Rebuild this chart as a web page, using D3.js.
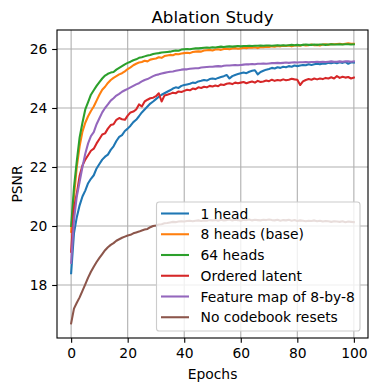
<!DOCTYPE html>
<html><head><meta charset="utf-8">
<script src="https://cdn.jsdelivr.net/npm/d3@7"></script>
<style>body{margin:0;background:#fff}svg{display:block}text{font-family:"DejaVu Sans",sans-serif;fill:#000}</style>
</head><body><svg id="c" width="377" height="391"></svg>
<script>
const epochs = d3.range(0, 101);
const seriesNames = ["1 head","8 heads (base)","64 heads","Ordered latent","Feature map of 8-by-8","No codebook resets"];
const seriesColors = ["#1f77b4","#ff7f0e","#2ca02c","#d62728","#9467bd","#8c564b"];
const xTicks = [0,20,40,60,80,100];
const yTicks = [18,20,22,24,26];

const oneHead = [18.40,19.75,20.30,20.70,21.00,21.20,21.45,21.60,21.72,21.95,22.10,22.25,22.35,22.42,22.58,22.70,22.88,23.02,23.08,23.22,23.30,23.40,23.52,23.60,23.72,23.85,23.95,24.05,24.15,24.22,24.30,24.38,24.45,24.50,24.55,24.60,24.66,24.70,24.68,24.75,24.78,24.80,24.82,24.86,24.85,24.90,24.92,24.95,24.93,24.98,25.00,24.98,25.02,25.05,25.08,25.12,25.00,25.08,25.12,25.15,25.18,25.20,25.18,25.23,25.26,25.28,25.14,25.22,25.26,25.30,25.32,25.36,25.34,25.38,25.36,25.40,25.38,25.42,25.40,25.44,25.42,25.44,25.46,25.45,25.48,25.46,25.48,25.50,25.48,25.51,25.50,25.53,25.52,25.54,25.52,25.55,25.53,25.56,25.50,25.55,25.54];
const eightHeads = [19.80,21.00,22.00,22.70,23.20,23.50,23.72,23.90,24.05,24.25,24.45,24.62,24.72,24.85,24.95,25.02,25.08,25.14,25.18,25.24,25.32,25.38,25.45,25.50,25.54,25.56,25.60,25.58,25.64,25.66,25.68,25.72,25.70,25.76,25.78,25.80,25.79,25.83,25.82,25.85,25.86,25.87,25.86,25.90,25.91,25.92,25.91,25.95,25.96,25.97,25.95,25.98,25.99,25.97,26.00,26.01,25.99,26.02,26.03,26.01,26.02,26.04,26.03,26.05,26.04,26.06,26.03,26.07,26.06,26.08,26.07,26.09,26.08,26.10,26.09,26.11,26.10,26.12,26.09,26.12,26.13,26.11,26.14,26.12,26.13,26.15,26.13,26.14,26.12,26.15,26.16,26.14,26.17,26.16,26.17,26.18,26.16,26.18,26.19,26.18,26.18];
const sixtyFourHeads = [20.00,21.30,22.20,23.00,23.50,23.95,24.20,24.45,24.60,24.75,24.88,25.00,25.10,25.16,25.20,25.22,25.30,25.36,25.42,25.48,25.53,25.57,25.62,25.65,25.70,25.72,25.75,25.78,25.80,25.83,25.85,25.86,25.88,25.89,25.90,25.91,25.93,25.95,25.94,25.98,25.99,26.00,25.99,26.01,26.02,26.02,26.03,26.04,26.05,26.04,26.06,26.05,26.07,26.08,26.07,26.08,26.09,26.08,26.09,26.10,26.09,26.10,26.10,26.11,26.10,26.11,26.11,26.12,26.11,26.12,26.12,26.11,26.12,26.13,26.12,26.13,26.12,26.13,26.14,26.13,26.14,26.13,26.14,26.15,26.14,26.14,26.15,26.14,26.15,26.15,26.14,26.15,26.16,26.15,26.15,26.16,26.15,26.16,26.16,26.15,26.16];
const orderedLatent = [19.13,20.60,21.10,21.70,22.05,22.25,22.40,22.55,22.62,22.80,22.95,23.10,23.14,23.30,23.42,23.45,23.60,23.66,23.62,23.60,23.74,23.85,23.88,23.95,24.12,24.05,24.22,24.28,24.33,24.35,24.40,24.50,24.22,24.42,24.45,24.48,24.52,24.50,24.56,24.54,24.58,24.62,24.60,24.66,24.64,24.70,24.68,24.72,24.70,24.75,24.73,24.76,24.74,24.80,24.78,24.82,24.84,24.81,24.86,24.84,24.86,24.88,24.84,24.87,24.90,24.86,24.92,24.88,24.90,24.93,24.91,24.96,24.92,24.95,24.93,24.97,24.94,24.96,24.99,24.97,24.96,24.78,24.90,24.95,24.98,24.96,25.00,24.97,25.00,24.98,25.02,25.00,25.04,25.00,25.08,25.02,25.06,25.03,25.05,25.00,25.03];
const featureMap = [18.75,20.20,21.00,21.50,22.00,22.45,22.80,23.05,23.18,23.45,23.65,23.85,24.00,24.12,24.25,24.33,24.42,24.48,24.55,24.60,24.65,24.70,24.75,24.80,24.84,24.90,24.95,24.98,25.03,25.08,25.12,25.14,25.17,25.19,25.21,25.23,25.24,25.26,25.28,25.30,25.31,25.31,25.33,25.34,25.35,25.35,25.37,25.38,25.39,25.40,25.40,25.41,25.42,25.41,25.43,25.44,25.44,25.45,25.46,25.45,25.46,25.47,25.48,25.48,25.49,25.48,25.50,25.50,25.51,25.50,25.51,25.52,25.52,25.53,25.52,25.53,25.54,25.53,25.54,25.55,25.54,25.55,25.55,25.56,25.55,25.56,25.56,25.57,25.56,25.57,25.56,25.57,25.58,25.57,25.57,25.58,25.57,25.58,25.58,25.57,25.58];
const noResets = [16.70,17.20,17.40,17.58,17.80,18.02,18.25,18.45,18.62,18.78,18.92,19.05,19.18,19.28,19.36,19.42,19.50,19.55,19.60,19.64,19.68,19.70,19.75,19.78,19.81,19.85,19.88,19.90,19.96,20.00,20.02,20.05,20.06,20.09,20.10,20.12,20.14,20.13,20.15,20.16,20.15,20.17,20.18,20.16,20.18,20.19,20.17,20.19,20.18,20.20,20.19,20.20,20.18,20.21,20.19,20.20,20.22,20.19,20.21,20.20,20.18,20.21,20.20,20.22,20.19,20.21,20.20,20.19,20.21,20.20,20.22,20.20,20.19,20.21,20.18,20.20,20.19,20.21,20.18,20.20,20.17,20.19,20.18,20.16,20.18,20.17,20.19,20.16,20.18,20.15,20.17,20.16,20.14,20.16,20.15,20.14,20.16,20.13,20.15,20.14,20.13];

const allSeries = [oneHead, eightHeads, sixtyFourHeads, orderedLatent, featureMap, noResets];

const L = 57, R = 368, T = 30, B = 338;
const FS = 13.89;
const x = d3.scaleLinear().domain([-5, 105]).range([L, R]);
const y = d3.scaleLinear().domain([16.203, 26.644]).range([B, T]);
const svg = d3.select("#c");

// grid
const g = svg.append("g");
g.selectAll(".gx").data(xTicks).enter().append("line")
  .attr("x1", d => x(d)).attr("x2", d => x(d)).attr("y1", T).attr("y2", B)
  .attr("stroke", "#b0b0b0").attr("stroke-width", 1.11);
g.selectAll(".gy").data(yTicks).enter().append("line")
  .attr("y1", d => y(d)).attr("y2", d => y(d)).attr("x1", L).attr("x2", R)
  .attr("stroke", "#b0b0b0").attr("stroke-width", 1.11);

// lines
const clip = svg.append("clipPath").attr("id", "clp").append("rect")
  .attr("x", L).attr("y", T).attr("width", R - L).attr("height", B - T);
const line = d3.line().x((d, i) => x(epochs[i])).y(d => y(d));
allSeries.forEach((s, k) => {
  svg.append("path").datum(s).attr("d", line)
    .attr("fill", "none").attr("stroke", seriesColors[k]).attr("stroke-width", 2.08)
    .attr("stroke-linejoin", "round").attr("stroke-linecap", "square")
    .attr("clip-path", "url(#clp)");
});

// axes
const xa = svg.append("g").attr("transform", `translate(0,${B})`)
  .call(d3.axisBottom(x).tickValues(xTicks).tickSize(4.86).tickPadding(4.86).tickFormat(d3.format("d")));
const ya = svg.append("g").attr("transform", `translate(${L},0)`)
  .call(d3.axisLeft(y).tickValues(yTicks).tickSize(4.86).tickPadding(4.86).tickFormat(d3.format("d")));
[xa, ya].forEach(a => {
  a.select(".domain").remove();
  a.selectAll(".tick line").attr("stroke", "#000").attr("stroke-width", 1.11);
  a.selectAll(".tick text").attr("font-size", FS).attr("font-family", "DejaVu Sans").attr("fill", "#000");
});

// spines
svg.append("rect").attr("x", L).attr("y", T).attr("width", R - L).attr("height", B - T)
  .attr("fill", "none").attr("stroke", "#000").attr("stroke-width", 1.11);

// title and labels
svg.append("text").attr("x", (L + R) / 2).attr("y", 22.5).attr("text-anchor", "middle")
  .attr("font-size", 16.67).text("Ablation Study");
svg.append("text").attr("x", (L + R) / 2).attr("y", 379).attr("text-anchor", "middle")
  .attr("font-size", FS).text("Epochs");
svg.append("text").attr("transform", `translate(22,${(T + B) / 2}) rotate(-90)`).attr("text-anchor", "middle")
  .attr("font-size", FS).text("PSNR");

// legend
const lg = svg.append("g");
lg.append("rect").attr("x", 156.5).attr("y", 202).attr("width", 203.5).attr("height", 129)
  .attr("rx", 2.8).attr("fill", "#fff").attr("fill-opacity", 0.8)
  .attr("stroke", "#cccccc").attr("stroke-width", 1.11);
seriesNames.forEach((n, k) => {
  const cy = 213.5 + k * 20.75;
  lg.append("line").attr("x1", 161).attr("x2", 189).attr("y1", cy).attr("y2", cy)
    .attr("stroke", seriesColors[k]).attr("stroke-width", 2.08);
  lg.append("text").attr("x", 200.5).attr("y", cy).attr("dy", "0.36em")
    .attr("font-size", FS).text(n);
});
</script></body></html>
